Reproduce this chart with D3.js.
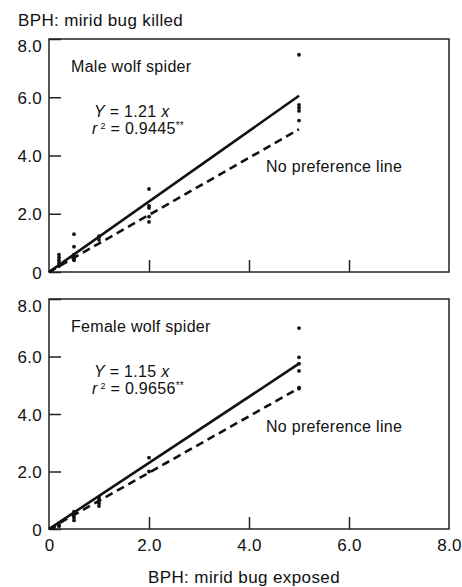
<!DOCTYPE html>
<html>
<head>
<meta charset="utf-8">
<script src="https://cdn.jsdelivr.net/npm/d3@7"></script>
<style>
  html, body { margin: 0; padding: 0; background: #fff; }
  svg { display: block; }
  text { font-family: "Liberation Sans", Arial, Helvetica, sans-serif; fill: #111; }
</style>
</head>
<body>
<svg id="chart" width="462" height="587"></svg>
<script>
// ---- data ----
const axisTicks = [0, 2, 4, 6, 8];
const tickLabels = ["0", "2.0", "4.0", "6.0", "8.0"];

const maleX = [0.2, 0.2, 0.2, 0.2, 0.2, 0.5, 0.5, 0.5, 0.5, 0.5, 0.5, 1, 1, 1, 2, 2, 2, 2, 2, 5, 5, 5, 5, 5];
const maleY = [0.2, 0.3, 0.4, 0.5, 0.6, 1.3, 0.87, 0.6, 0.5, 0.45, 0.4, 1.23, 1.2, 1.1, 2.85, 2.27, 2.2, 1.9, 1.72, 7.46, 5.74, 5.64, 5.53, 5.2];

const femaleX = [0.1, 0.2, 0.2, 0.5, 0.5, 0.5, 0.5, 1, 1, 1, 1, 2, 2, 5, 5, 5, 5, 5, 5];
const femaleY = [0.05, 0.1, 0.15, 0.6, 0.5, 0.4, 0.3, 1.1, 1.0, 0.9, 0.8, 2.48, 2.0, 6.99, 5.97, 5.75, 5.5, 4.92, 4.88];

const maleSlope = 1.21;
const femaleSlope = 1.15;
const noPrefEnd = 4.9;   // dashed "no preference" line end value at x = 5
const lineEndX = 5;

const panels = [
  { name: "Male wolf spider", eq: "1.21", r2: "0.9445", xs: maleX, ys: maleY, slope: maleSlope,
    top: 39, bottom: 272, showX: false },
  { name: "Female wolf spider", eq: "1.15", r2: "0.9656", xs: femaleX, ys: femaleY, slope: femaleSlope,
    top: 299, bottom: 529, showX: true }
];

// ---- drawing ----
const svg = d3.select("#chart");
const x = d3.scaleLinear().domain([0, 8]).range([49, 449]);
const FONT = "Liberation Sans, Arial, sans-serif";

svg.append("text").attr("x", 18).attr("y", 26)
  .attr("font-size", 17).attr("letter-spacing", 0.35).text("BPH: mirid bug killed");

panels.forEach(p => {
  const y = d3.scaleLinear().domain([0, 8]).range([p.bottom, p.top]);
  const g = svg.append("g");

  // frame
  g.append("rect")
    .attr("x", x(0)).attr("y", y(8))
    .attr("width", x(8) - x(0)).attr("height", y(0) - y(8))
    .attr("fill", "none").attr("stroke", "#222").attr("stroke-width", 1.5);

  // y axis ticks (inward)
  const yAxis = d3.axisLeft(y).tickValues(axisTicks).tickSize(-12)
    .tickFormat((d, i) => tickLabels[i]).tickPadding(7);
  const ya = g.append("g").attr("transform", `translate(${x(0)},0)`).call(yAxis);
  ya.select(".domain").remove();
  ya.selectAll(".tick line").attr("stroke", "#222").attr("stroke-width", 1.5);
  ya.selectAll(".tick text").attr("font-size", 17).attr("fill", "#111")
    .attr("font-family", FONT).attr("letter-spacing", 0.3)
    .attr("dy", (d) => d === 8 ? "0.72em" : "0.36em");

  // x axis ticks (inward)
  const xAxis = d3.axisBottom(x).tickValues(axisTicks).tickSize(-12)
    .tickFormat((d, i) => p.showX ? tickLabels[i] : "").tickPadding(10);
  const xa = g.append("g").attr("transform", `translate(0,${y(0)})`).call(xAxis);
  xa.select(".domain").remove();
  xa.selectAll(".tick line").attr("stroke", "#222").attr("stroke-width", 1.5)
    .attr("opacity", d => (d === 0 || d === 8) ? 0 : 1);
  xa.selectAll(".tick text").attr("font-size", 17).attr("fill", "#111")
    .attr("font-family", FONT).attr("letter-spacing", 0.3);

  // no preference dashed line
  g.append("line")
    .attr("x1", x(0)).attr("y1", y(0))
    .attr("x2", x(lineEndX)).attr("y2", y(noPrefEnd))
    .attr("stroke", "#111").attr("stroke-width", 2.6)
    .attr("stroke-dasharray", "8,5");

  // regression line
  g.append("line")
    .attr("x1", x(0)).attr("y1", y(0))
    .attr("x2", x(lineEndX)).attr("y2", y(p.slope * lineEndX))
    .attr("stroke", "#111").attr("stroke-width", 2.6);

  // points
  g.selectAll("circle.pt").data(p.xs.map((d, i) => [d, p.ys[i]])).enter()
    .append("circle").attr("class", "pt")
    .attr("cx", d => x(d[0])).attr("cy", d => y(d[1]))
    .attr("r", 1.9).attr("fill", "#111");

  // labels
  g.append("text").attr("x", 71).attr("y", p.top + 33)
    .attr("font-size", 16).attr("letter-spacing", 0.3).text(p.name);

  const eq = g.append("text").attr("x", 94).attr("y", p.top + 78)
    .attr("font-size", 16).attr("letter-spacing", 0.3);
  eq.append("tspan").attr("font-style", "italic").text("Y");
  eq.append("tspan").text(" = " + p.eq);
  eq.append("tspan").attr("font-style", "italic").text(" x");

  const r = g.append("text").attr("x", 92).attr("y", p.top + 95)
    .attr("font-size", 16).attr("letter-spacing", 0.3);
  r.append("tspan").attr("font-style", "italic").text("r");
  r.append("tspan").attr("font-size", 9).attr("dy", -5).text(" 2");
  r.append("tspan").attr("dy", 5).text(" = " + p.r2);
  r.append("tspan").attr("font-size", 10).attr("dy", -5).text("**");

  g.append("text").attr("x", 266).attr("y", p.top + 133)
    .attr("font-size", 16).attr("letter-spacing", 0.3).text("No preference line");
});

svg.append("text").attr("x", 244).attr("y", 583)
  .attr("text-anchor", "middle").attr("font-size", 17).attr("letter-spacing", 0.4)
  .text("BPH: mirid bug exposed");
</script>
</body>
</html>
